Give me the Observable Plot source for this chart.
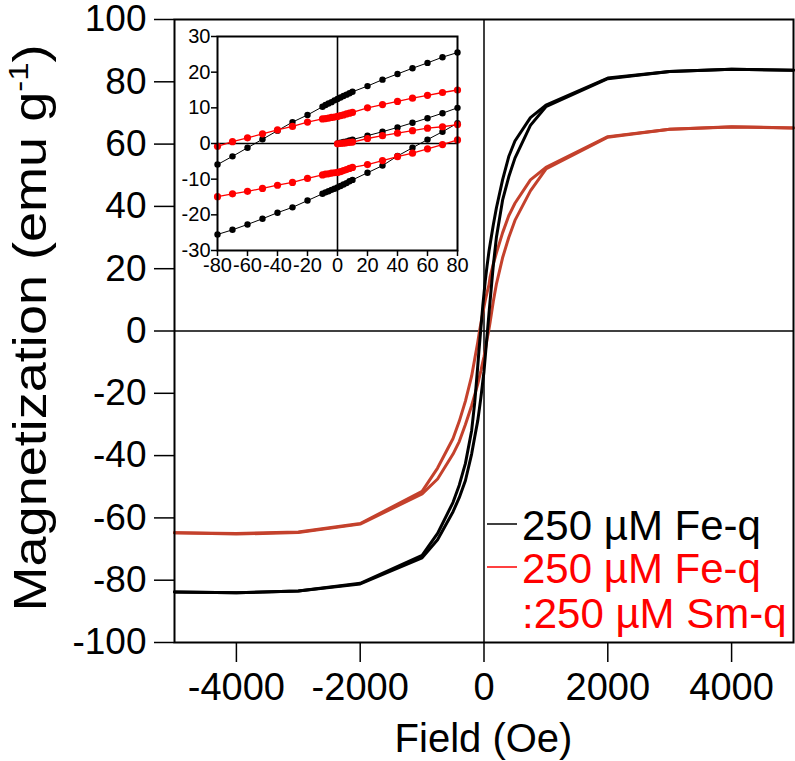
<!DOCTYPE html>
<html><head><meta charset="utf-8">
<script src="https://cdn.jsdelivr.net/npm/d3@7"></script>
<script src="https://cdn.jsdelivr.net/npm/@observablehq/plot@0.6"></script>
<style>
body{margin:0;background:#fff}
#wrap{position:relative;width:795px;height:761px;overflow:hidden}
#inset{position:absolute;left:160px;top:20px}
</style>
</head><body><div id="wrap"><div id="main"></div><div id="inset"></div></div>
<script>
const FONT = "'Liberation Sans', Arial, Helvetica, sans-serif";
const seriesLabels = ["250 µM Fe-q", "250 µM Fe-q", ":250 µM Sm-q"];
const xTitle = "Field (Oe)";
const yTitleMain = "Magnetization (emu g";
const yTitleSup = "-1";
const xTicks = [-4000, -2000, 0, 2000, 4000];
const yTicks = [-100, -80, -60, -40, -20, 0, 20, 40, 60, 80, 100];
const insetXTicks = [-80, -60, -40, -20, 0, 20, 40, 60, 80];
const insetYTicks = [-30, -20, -10, 0, 10, 20, 30];

// main loop (field in Oe, magnetization in emu/g)
const fieldDesc = [5000,4000,3000,2000,1000,750,500,400,300,200,150,100,80,50,20,0,-20,-50,-80,-100,-150,-200,-300,-400,-500,-750,-1000,-2000,-3000,-4000,-5000];
const fieldAsc = [-5000,-4000,-3000,-2000,-1000,-750,-500,-400,-300,-200,-150,-100,-80,-50,-20,0,20,50,80,100,150,200,300,400,500,750,1000,2000,3000,4000,5000];
const feqDesc = [83.7,84.0,83.3,81.2,72.5,68.5,61,56,48.5,39.5,34,28,25.5,21,16,12,8,1,-6,-11,-23,-32,-42.5,-49.5,-55,-65,-72,-81,-83.5,-84,-83.8];
const feqAsc = [-83.8,-84,-83.5,-81.2,-72.8,-67,-58,-53.5,-48,-39.5,-34,-28.7,-25.8,-21.3,-16.3,-13,-8.3,-1.3,5.5,10,21,30,42,49.5,55.5,66,72,81,83.3,84,83.7];
const smDesc = [65.2,65.6,64.8,62.4,52.5,48.5,41,37,31.5,25,21.5,17.5,14.8,12.4,9.8,7.8,5.7,2.5,-1,-3.5,-9,-14.5,-22.5,-29,-34.5,-44,-51.5,-61.8,-64.5,-65,-64.8];
const smAsc = [-64.8,-65.2,-64.7,-62,-52.3,-47.5,-39.5,-35.5,-30,-24,-20.5,-17,-15.2,-12.8,-10,-8.3,-6.2,-2.6,0.6,3,9.5,15,23.5,30,35.5,45,52,62.2,64.8,65.5,65.2];

// inset (low field detail)
const insetFieldDesc = [80,70,60,50,40,30,20,10,8,6,4,2,0,-2,-4,-6,-8,-10,-20,-30,-40,-50,-60,-70,-80];
const insetFieldAsc = [-80,-70,-60,-50,-40,-30,-20,-10,-8,-6,-4,-2,0,2,4,6,8,10,20,30,40,50,60,70,80];
const insetFieldVirgin = [0,2,4,6,8,10,20,30,40,50,60,70,80];
const feqInsetDesc = [25.5,24.2,22.6,21.1,19.5,17.9,16.1,14.5,14.1,13.7,13.3,12.9,12.5,12.1,11.6,11.2,10.8,10.3,8,6,3.6,1.2,-1.2,-3.6,-5.9];
const feqInsetAsc = [-25.5,-24.2,-22.7,-21.1,-19.4,-17.9,-16,-14.1,-13.7,-13.4,-13.0,-12.7,-12.3,-11.9,-11.5,-11.1,-10.6,-10.2,-8.2,-6.2,-3.5,-1.2,1.1,3.3,5.7];
const feqInsetVirgin = [0,0.2,0.4,0.6,0.85,1.1,2.2,3.3,4.5,5.8,7.1,8.5,10.0];
const smInsetDesc = [15,14.3,13.5,12.7,11.8,10.9,10,8.7,8.5,8.3,8.0,7.8,7.6,7.4,7.3,7.1,7.0,6.9,6,4.8,3.8,2.7,1.6,0.5,-0.8];
const smInsetAsc = [-14.9,-14.1,-13.4,-12.6,-11.7,-10.9,-9.8,-8.8,-8.6,-8.5,-8.3,-8.2,-8.1,-7.9,-7.6,-7.3,-7.0,-6.7,-5.9,-4.8,-3.7,-2.7,-1.5,-0.3,1.0];
const smInsetVirgin = [-0.1,0,0.1,0.2,0.3,0.4,1.4,2.2,2.9,3.6,4.3,4.7,5.3];

const BLACK = "#000000";
const RED_MAIN = "#c4412c";
const RED = "#ff0000";

const rows = (f, v) => f.map((h, i) => ({H: h, M: v[i]}));
const fmt = d => String(d);

const main = Plot.plot({
  width: 795, height: 761,
  marginLeft: 174, marginRight: 2, marginTop: 19, marginBottom: 119,
  x: {domain: [-5000, 5000]},
  y: {domain: [-100, 100]},
  style: {fontFamily: FONT, fontSize: "38px", color: "black", background: "white", overflow: "visible"},
  marks: [
    Plot.ruleY([0], {stroke: BLACK, strokeWidth: 1.5}),
    Plot.ruleX([0], {stroke: BLACK, strokeWidth: 1.5}),
    Plot.line(rows(fieldDesc, smDesc), {x: "H", y: "M", stroke: RED_MAIN, strokeWidth: 3}),
    Plot.line(rows(fieldAsc, smAsc), {x: "H", y: "M", stroke: RED_MAIN, strokeWidth: 3}),
    Plot.line(rows(fieldDesc, feqDesc), {x: "H", y: "M", stroke: BLACK, strokeWidth: 3}),
    Plot.line(rows(fieldAsc, feqAsc), {x: "H", y: "M", stroke: BLACK, strokeWidth: 3}),
    Plot.frame({stroke: BLACK, strokeWidth: 2}),
    Plot.axisY({ticks: yTicks, tickSize: 20, tickPadding: 8, tickFormat: fmt, strokeWidth: 1.5, label: null, fontSize: 37}),
    Plot.axisX({ticks: xTicks, tickSize: 20, tickPadding: 11, tickFormat: fmt, strokeWidth: 1.5, label: null, fontSize: 38})
  ]
});
document.getElementById("main").appendChild(main);

// titles and legend
const svg = d3.select(main);
const yt = svg.append("text")
  .attr("transform", "translate(46,328) rotate(-90)")
  .attr("text-anchor", "middle")
  .attr("textLength", 567).attr("lengthAdjust", "spacingAndGlyphs")
  .attr("font-family", FONT).attr("font-size", 46).attr("fill", "black");
yt.append("tspan").text(yTitleMain);
yt.append("tspan").attr("font-size", 28).attr("dy", -18).text(yTitleSup);
yt.append("tspan").attr("dy", 18).text(")");

svg.append("text").attr("x", 483.5).attr("y", 752).attr("text-anchor", "middle")
  .attr("font-family", FONT).attr("font-size", 40).attr("fill", "black").text(xTitle);

const legend = [
  {label: seriesLabels[0], color: BLACK, base: 540, line: true},
  {label: seriesLabels[1], color: RED, base: 583, line: true},
  {label: seriesLabels[2], color: RED, base: 628, line: false}
];
legend.forEach(l => {
  if (l.line) svg.append("line").attr("x1", 487).attr("x2", 517)
    .attr("y1", l.base - 16).attr("y2", l.base - 16)
    .attr("stroke", l.color).attr("stroke-width", 1.5);
  svg.append("text").attr("x", 522).attr("y", l.base).attr("text-anchor", "start")
    .attr("font-family", FONT).attr("font-size", 42).attr("fill", l.color).text(l.label);
});

// inset
const insetSeries = [
  {f: insetFieldVirgin, v: feqInsetVirgin, c: BLACK, w: 1, r: 3.2},
  {f: insetFieldDesc, v: feqInsetDesc, c: BLACK, w: 1, r: 3.2},
  {f: insetFieldAsc, v: feqInsetAsc, c: BLACK, w: 1, r: 3.2},
  {f: insetFieldVirgin, v: smInsetVirgin, c: RED, w: 1.3, r: 3.6},
  {f: insetFieldDesc, v: smInsetDesc, c: RED, w: 1.3, r: 3.6},
  {f: insetFieldAsc, v: smInsetAsc, c: RED, w: 1.3, r: 3.6}
];
const insetMarks = [
  Plot.ruleY([0], {stroke: BLACK, strokeWidth: 1.6}),
  Plot.ruleX([0], {stroke: BLACK, strokeWidth: 1.6})
];
insetSeries.forEach(s => {
  const d = rows(s.f, s.v);
  insetMarks.push(Plot.line(d, {x: "H", y: "M", stroke: s.c, strokeWidth: s.w}));
  insetMarks.push(Plot.dot(d, {x: "H", y: "M", fill: s.c, r: s.r, stroke: "none"}));
});
insetMarks.push(Plot.frame({stroke: BLACK, strokeWidth: 2}));
insetMarks.push(Plot.axisY({ticks: insetYTicks, tickSize: 6, tickPadding: 1, tickFormat: fmt, strokeWidth: 1.5, label: null, fontSize: 20}));
insetMarks.push(Plot.axisX({ticks: insetXTicks, tickSize: 6, tickPadding: 1, tickFormat: fmt, strokeWidth: 1.5, label: null, fontSize: 20}));

const inset = Plot.plot({
  width: 310, height: 270,
  marginLeft: 57, marginRight: 13, marginTop: 16, marginBottom: 40,
  x: {domain: [-80, 80]},
  y: {domain: [-30, 30]},
  style: {fontFamily: FONT, fontSize: "20px", color: "black", background: "transparent", overflow: "visible"},
  marks: insetMarks
});
document.getElementById("inset").appendChild(inset);
</script>
</body></html>
